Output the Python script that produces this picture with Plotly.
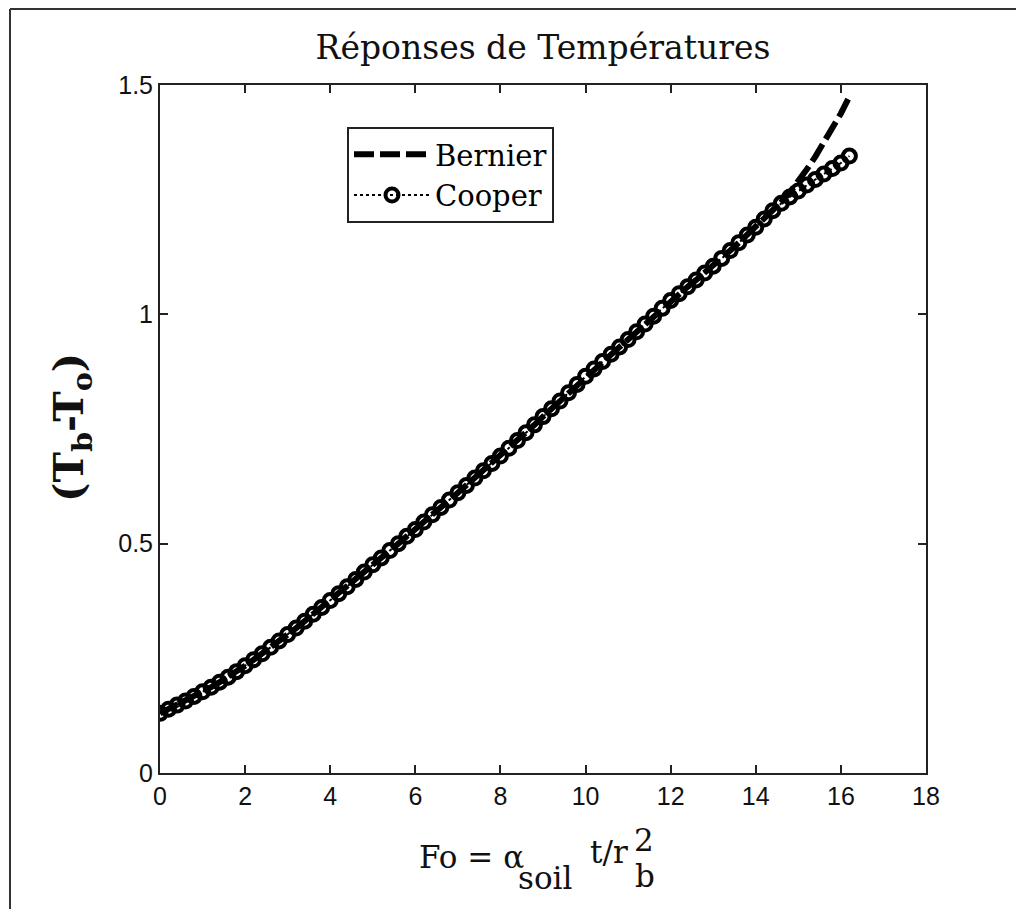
import plotly.graph_objects as go

# Fourier number (x) and temperature responses (y)
fo = [0.0, 0.2, 0.4, 0.6, 0.8, 1.0, 1.2, 1.4, 1.6, 1.8,
      2.0, 2.2, 2.4, 2.6, 2.8, 3.0, 3.2, 3.4, 3.6, 3.8,
      4.0, 4.2, 4.4, 4.6, 4.8, 5.0, 5.2, 5.4, 5.6, 5.8,
      6.0, 6.2, 6.4, 6.6, 6.8, 7.0, 7.2, 7.4, 7.6, 7.8,
      8.0, 8.2, 8.4, 8.6, 8.8, 9.0, 9.2, 9.4, 9.6, 9.8,
      10.0, 10.2, 10.4, 10.6, 10.8, 11.0, 11.2, 11.4, 11.6, 11.8,
      12.0, 12.2, 12.4, 12.6, 12.8, 13.0, 13.2, 13.4, 13.6, 13.8,
      14.0, 14.2, 14.4, 14.6, 14.8, 15.0, 15.2, 15.4, 15.6, 15.8,
      16.0, 16.2]

bernier = [0.130, 0.139, 0.148, 0.157, 0.167, 0.177, 0.187, 0.198, 0.209, 0.221,
           0.234, 0.247, 0.260, 0.274, 0.288, 0.302, 0.316, 0.331, 0.346, 0.361,
           0.376, 0.391, 0.406, 0.422, 0.438, 0.454, 0.469, 0.485, 0.500, 0.516,
           0.531, 0.547, 0.563, 0.579, 0.595, 0.611, 0.627, 0.643, 0.659, 0.675,
           0.691, 0.708, 0.725, 0.742, 0.759, 0.777, 0.794, 0.811, 0.829, 0.847,
           0.865, 0.881, 0.897, 0.913, 0.929, 0.945, 0.962, 0.979, 0.996, 1.013,
           1.030, 1.045, 1.060, 1.075, 1.090, 1.105, 1.122, 1.139, 1.156, 1.173,
           1.190, 1.208, 1.226, 1.245, 1.266, 1.290, 1.316, 1.344, 1.374, 1.405,
           1.438, 1.475]

cooper = [0.130, 0.139, 0.148, 0.157, 0.167, 0.177, 0.187, 0.198, 0.209, 0.221,
          0.234, 0.247, 0.260, 0.274, 0.288, 0.302, 0.316, 0.331, 0.346, 0.361,
          0.376, 0.391, 0.406, 0.422, 0.438, 0.454, 0.469, 0.485, 0.500, 0.516,
          0.531, 0.547, 0.563, 0.579, 0.595, 0.611, 0.627, 0.643, 0.659, 0.675,
          0.691, 0.708, 0.725, 0.742, 0.759, 0.777, 0.794, 0.811, 0.829, 0.847,
          0.865, 0.881, 0.897, 0.913, 0.929, 0.945, 0.962, 0.979, 0.996, 1.013,
          1.030, 1.045, 1.060, 1.075, 1.090, 1.105, 1.122, 1.139, 1.156, 1.173,
          1.190, 1.208, 1.226, 1.242, 1.256, 1.269, 1.282, 1.294, 1.306, 1.318,
          1.330, 1.345]

x_ticks = [0, 2, 4, 6, 8, 10, 12, 14, 16, 18]
y_ticks = [0, 0.5, 1, 1.5]
y_tick_labels = ["0", "0.5", "1", "1.5"]

# page has an 8px body margin; figure is sized and placed to compensate
OFF = 8
W, H = 1024 - 2 * OFF, 917 - 2 * OFF
L, R, T, B = 160, 926, 85, 773   # plot-area edges in page pixels


def px(xp):
    return (xp - L) / (R - L)


def py(yp):
    return (B - yp) / (B - T)


SERIF = "DejaVu Serif, Liberation Serif, serif"
NARROW = "Liberation Sans Narrow, Liberation Sans, Arial, sans-serif"

fig = go.Figure()
fig.add_trace(go.Scatter(
    x=fo, y=cooper, name="Cooper", mode="lines+markers",
    line=dict(color="black", width=2, dash="dot"),
    marker=dict(symbol="circle-open", size=13, color="black",
                line=dict(color="black", width=4)),
))
fig.add_trace(go.Scatter(
    x=fo, y=bernier, name="Bernier", mode="lines",
    line=dict(color="black", width=6, dash="20px,6px"),
))

axis_common = dict(
    showgrid=False, zeroline=False, showline=True, mirror="ticks",
    linecolor="#222", linewidth=2, ticks="inside", ticklen=8,
    tickwidth=2, tickcolor="#222",
    tickfont=dict(family=NARROW, size=25, color="#111"),
)
fig.update_xaxes(range=[0, 18], tickvals=x_ticks, **axis_common)
fig.update_yaxes(range=[0, 1.5], tickvals=y_ticks, ticktext=y_tick_labels,
                 **axis_common)

frame = dict(color="#333", width=2)
fig.update_layout(
    width=W, height=H,
    margin=dict(l=L - OFF, r=W - (R - OFF), t=T - OFF, b=H - (B - OFF), pad=0),
    plot_bgcolor="white", paper_bgcolor="white",
    showlegend=True,
    legend=dict(
        x=px(347), y=py(127), xanchor="left", yanchor="top",
        bordercolor="#222", borderwidth=2, bgcolor="white",
        font=dict(family=SERIF, size=29, color="black"),
        traceorder="reversed", itemwidth=76, tracegroupgap=0,
    ),
    title=dict(text="Réponses de Températures", x=0.5, xref="paper",
               yref="container", y=1 - (47 - OFF) / H, yanchor="middle",
               font=dict(family=SERIF, size=33, color="#111")),
    shapes=[
        dict(type="line", xref="paper", yref="paper",
             x0=px(10), x1=px(10), y0=py(1000), y1=py(OFF + 1), line=frame),
        dict(type="line", xref="paper", yref="paper",
             x0=px(10), x1=px(1100), y0=py(OFF + 1), y1=py(OFF + 1), line=frame),
    ],
)

ann_font = dict(family=SERIF, size=31, color="#111")
anns = [
    dict(text="<b>(T<sub>b</sub>-T<sub>o</sub>)</b>", x=px(72), y=py(428),
         textangle=-90, xanchor="center", yanchor="middle",
         font=dict(family=SERIF, size=41, color="#111")),
    dict(text="Fo = α", x=px(417), y=py(857), xanchor="left", yanchor="middle",
         font=ann_font),
    dict(text="soil", x=px(516), y=py(878), xanchor="left", yanchor="middle",
         font=ann_font),
    dict(text="t/r", x=px(588), y=py(852), xanchor="left", yanchor="middle",
         font=ann_font),
    dict(text="2", x=px(632), y=py(840), xanchor="left", yanchor="middle",
         font=ann_font),
    dict(text="b", x=px(633), y=py(876), xanchor="left", yanchor="middle",
         font=ann_font),
]
for a in anns:
    fig.add_annotation(xref="paper", yref="paper", showarrow=False, **a)

fig.write_html("out.html")
